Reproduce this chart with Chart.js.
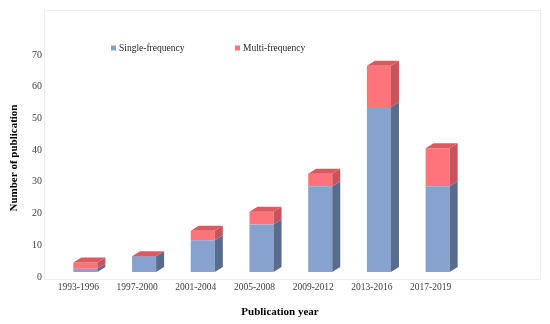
<!DOCTYPE html>
<html>
<head>
<meta charset="utf-8">
<script src="https://cdn.jsdelivr.net/npm/chart.js@4/dist/chart.umd.min.js"></script>
<style>
  html,body{margin:0;padding:0;background:#fff;}
  #wrap{width:550px;height:324px;position:relative;}
</style>
</head>
<body>
<div id="wrap"><canvas id="c" width="550" height="324"></canvas></div>
<script>
// ---- data ----
const categories = ["1993-1996","1997-2000","2001-2004","2005-2008","2009-2012","2013-2016","2017-2019"];
const singleFrequency = [1, 5, 10, 15, 27, 52, 27];
const multiFrequency  = [2, 0, 3, 4, 4, 13, 12];
const seriesNames = ["Single-frequency", "Multi-frequency"];
const yTicks = [0, 10, 20, 30, 40, 50, 60, 70];

// ---- styles ----
const FONT = "'Liberation Serif', 'Times New Roman', serif";
const BLUE = "#87A2CE", BLUE_SIDE = "#586C8E", BLUE_TOP = "#6E86B0";
const RED = "#FF747B", RED_SIDE = "#C7545A", RED_TOP = "#DB5A60";
const DX = 8, DY = 5;          // 3D depth offset
const SHIFT_X = 7, SHIFT_Y = -5; // perspective shift of the bar block

const sideColors = [BLUE_SIDE, RED_SIDE];
const topColors = [BLUE_TOP, RED_TOP];

const threeD = {
  id: 'threeD',
  beforeDatasetsDraw(chart) {
    chart.ctx.save();
    chart.ctx.translate(SHIFT_X, SHIFT_Y);
  },
  afterDatasetsDraw(chart) {
    const ctx = chart.ctx;
    const nDs = chart.data.datasets.length;
    for (let d = 0; d < nDs; d++) {
      const meta = chart.getDatasetMeta(d);
      meta.data.forEach((el) => {
        const p = el.getProps(['x','y','base','width'], true);
        const right = p.x + p.width / 2;
        const top = Math.min(p.y, p.base), bot = Math.max(p.y, p.base);
        if (bot - top > 0) {
          ctx.fillStyle = sideColors[d];
          ctx.beginPath();
          ctx.moveTo(right, top);
          ctx.lineTo(right + DX, top - DY);
          ctx.lineTo(right + DX, bot - DY);
          ctx.lineTo(right, bot);
          ctx.closePath();
          ctx.fill();
        }
      });
    }
    // top faces from the topmost dataset
    const last = chart.getDatasetMeta(nDs - 1);
    last.data.forEach((el) => {
      const p = el.getProps(['x','y','base','width'], true);
      const left = p.x - p.width / 2, right = p.x + p.width / 2;
      const top = Math.min(p.y, p.base);
      ctx.fillStyle = topColors[nDs - 1];
      ctx.beginPath();
      ctx.moveTo(left, top);
      ctx.lineTo(left + DX, top - DY);
      ctx.lineTo(right + DX, top - DY);
      ctx.lineTo(right, top);
      ctx.closePath();
      ctx.fill();
    });
    ctx.restore();
  }
};

const decor = {
  id: 'decor',
  beforeDraw(chart) {
    const ctx = chart.ctx;
    ctx.save();
    ctx.fillStyle = '#fff';
    ctx.fillRect(0, 0, chart.width, chart.height);
    ctx.strokeStyle = '#ececec';
    ctx.lineWidth = 1;
    ctx.strokeRect(44.5, 10.5, 496, 269);
    ctx.restore();
  },
  afterDraw(chart) {
    const ctx = chart.ctx;
    ctx.save();
    // legend
    const items = [
      {x: 111, color: BLUE, text: seriesNames[0]},
      {x: 235, color: RED, text: seriesNames[1]}
    ];
    ctx.font = "9.5px " + FONT;
    ctx.textBaseline = 'middle';
    ctx.textAlign = 'left';
    items.forEach(it => {
      ctx.fillStyle = it.color;
      ctx.fillRect(it.x, 45.5, 5, 5);
      ctx.fillStyle = '#262626';
      ctx.fillText(it.text, it.x + 8, 48.5);
    });
    // axis titles
    ctx.fillStyle = '#000';
    ctx.font = "bold 11px " + FONT;
    ctx.textAlign = 'center';
    ctx.fillText("Publication year", 280, 312);
    ctx.translate(14, 158);
    ctx.rotate(-Math.PI / 2);
    ctx.fillText("Number of publication", 0, 0);
    ctx.restore();
  }
};

new Chart(document.getElementById('c'), {
  type: 'bar',
  data: {
    labels: categories,
    datasets: [
      {label: seriesNames[0], data: singleFrequency, backgroundColor: BLUE, borderWidth: 0},
      {label: seriesNames[1], data: multiFrequency, backgroundColor: RED, borderWidth: 0}
    ]
  },
  options: {
    responsive: false,
    animation: false,
    layout: {padding: {left: 0, right: 90, top: 55, bottom: 0}},
    datasets: {bar: {categoryPercentage: 1, barPercentage: 0.41}},
    plugins: {legend: {display: false}, tooltip: {enabled: false}},
    scales: {
      x: {
        stacked: true,
        grid: {display: false, drawTicks: false},
        border: {display: false},
        ticks: {color: '#404040', font: {family: FONT, size: 9.5}, padding: 5, maxRotation: 0},
        afterFit(s) { s.height = 47; }
      },
      y: {
        stacked: true,
        min: 0, max: 70,
        afterBuildTicks(s) { s.ticks = yTicks.map(v => ({value: v})); },
        grid: {display: false, drawTicks: false},
        border: {display: false},
        ticks: {color: '#404040', font: {family: FONT, size: 10}, padding: 7},
        afterFit(s) { s.width = 49; }
      }
    }
  },
  plugins: [decor, threeD]
});
</script>
</body>
</html>
